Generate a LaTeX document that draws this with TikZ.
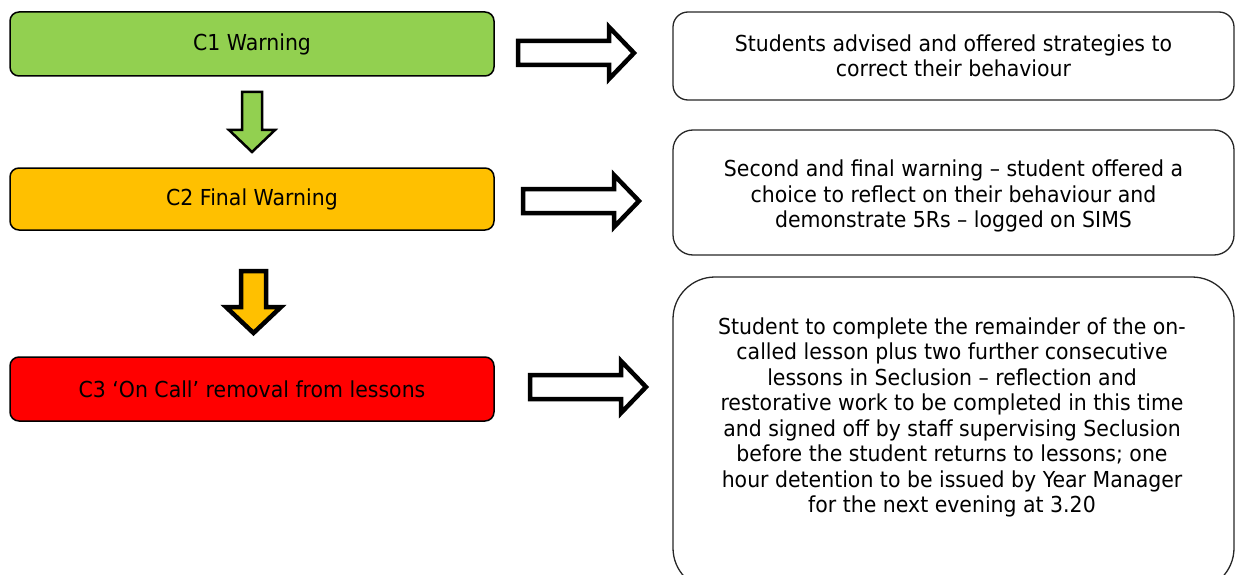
\documentclass[tikz,border=0pt]{standalone}
\usepackage{fontspec}
\setmainfont[FakeStretch=0.93]{DejaVu Sans}
\definecolor{cgreen}{HTML}{92D050}
\definecolor{corange}{HTML}{FFC000}
\definecolor{cred}{HTML}{FF0000}
\newcommand{\rarrowat}[2]{%
  \draw[blockarrow] (#1+2,#2-12) -- (#1+93,#2-12) -- (#1+93,#2-26) -- (#1+118,#2)
    -- (#1+93,#2+26) -- (#1+93,#2+12) -- (#1+2,#2+12) -- cycle;}
\begin{document}
\begin{tikzpicture}[x=1pt,y=-1pt,
  txt/.style={font=\fontsize{22}{25.5}\selectfont},
  lbox/.style={txt, draw=black, line width=1.5pt, rounded corners=9pt,
    minimum width=484pt, minimum height=64pt, inner sep=0pt},
  rbox/.style={draw=black!85, line width=1.3pt, minimum width=561pt, inner sep=0pt},
  rtext/.style={txt, align=center, inner sep=0pt},
  blockarrow/.style={draw=black, line width=4.5pt, fill=white, miter limit=10}]
\useasboundingbox (0,0) rectangle (1236,575);
\begin{scope}
\clip (0,0) rectangle (1236,575);
% left boxes
\node[lbox, fill=cgreen] (c1) at (252,44) {C1 Warning};
\node[lbox, fill=corange, minimum height=62pt] (c2) at (252,199) {C2 Final Warning};
\node[lbox, fill=cred] (c3) at (252,389) {C3 ‘On Call’ removal from lessons};
% right boxes
\node[rbox, minimum height=88pt, rounded corners=15pt] (r1) at (953.5,56) {};
\node[rtext] (t1) at (953.5,56) {Students advised and offered strategies to\\correct their behaviour};
\node[rbox, minimum height=125pt, rounded corners=20pt] (r2) at (953.5,192.5) {};
\node[rtext] (t2) at (953.5,196) {Second and final warning – student offered a\\choice to reflect on their behaviour and\\demonstrate 5Rs – logged on SIMS};
\node[rbox, minimum height=313pt, rounded corners=42pt] (r3) at (953.5,433.5) {};
\node[rtext] (t3) at (952,417.5) {Student to complete the remainder of the on-\\called lesson plus two further consecutive\\lessons in Seclusion – reflection and\\restorative work to be completed in this time\\and signed off by staff supervising Seclusion\\before the student returns to lessons; one\\hour detention to be issued by Year Manager\\for the next evening at 3.20};
% down arrows
\draw[line width=2.5pt, fill=cgreen, miter limit=10] (242,92) -- (262,92) -- (262,130) -- (275,130)
  -- (252,152) -- (229,130) -- (242,130) -- cycle;
\draw[line width=4.5pt, fill=corange, miter limit=10] (241,271) -- (266,271) -- (266,307) -- (281,307)
  -- (253.5,333) -- (226,307) -- (241,307) -- cycle;
% right arrows
\rarrowat{516}{53}
\rarrowat{521}{201}
\rarrowat{528}{387}
\end{scope}
\end{tikzpicture}
\end{document}
